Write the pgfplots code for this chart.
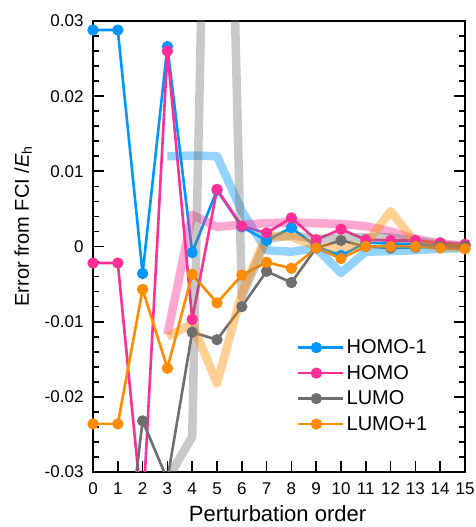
\documentclass[border=0pt]{standalone}
\usepackage{fontspec}
\setmainfont{Liberation Sans}
\usepackage{pgfplots}
\pgfplotsset{compat=1.18}
\definecolor{cB}{HTML}{0096FF}
\definecolor{cP}{HTML}{FF2D96}
\definecolor{cG}{HTML}{6E6E6E}
\definecolor{cO}{HTML}{FF8C00}
\begin{document}
\begin{tikzpicture}
\begin{axis}[
  at={(0,0)}, anchor=south west,
  scale only axis, width=372pt, height=451pt,
  xmin=0, xmax=15, ymin=-0.03, ymax=0.03,
  xtick={0,1,...,15},
  ytick={-0.03,-0.02,-0.01,0,0.01,0.02,0.03},
  yticklabels={-0.03,-0.02,-0.01,0,0.01,0.02,0.03},
  minor y tick num=4,
  xtick pos=bottom, ytick pos=both,
  tick align=inside,
  major tick length=11pt, minor tick length=6pt,
  axis line style={line width=2pt},
  tick style={line width=1.7pt, black},
  /pgf/number format/assume math mode=true,
  ticklabel style={font=\fontsize{17}{20}\selectfont},
  yticklabel style={xshift=-6pt},
  xticklabel style={yshift=-7pt},
  scaled y ticks=false,
  xlabel={Perturbation order},
  ylabel={Error from FCI /\textit{E}\textsubscript{h}},
  xlabel style={font=\fontsize{22}{26}\selectfont, at={(axis description cs:0.496,0)}, anchor=base, yshift=-50pt},
  ylabel style={font=\fontsize{20}{24}\selectfont, at={(axis description cs:-0.188,0.545)}, anchor=center},
  legend style={draw=none, fill=none, at={(0.548,0.191)}, anchor=west, font=\fontsize{20}{23}\selectfont, row sep=6pt, inner sep=0pt},
  legend cell align=left,
  legend image code/.code={\path (0pt,0pt) -- (45pt,0pt);\draw[mark repeat=2,mark phase=2,#1] plot coordinates {(0pt,0pt) (18pt,0pt) (36pt,0pt)};},
  every axis plot/.append style={line join=round},
]
% solid series
\addplot[cB, line width=2.6pt, mark=*, mark size=4.3pt, mark options={solid, fill=cB}] coordinates {
(0,0.0288) (1,0.0288) (2,-0.0036) (3,0.0266) (4,-0.0008) (5,0.0075) (6,0.0026) (7,0.0008)
(8,0.0025) (9,0.0000) (10,-0.0012) (11,0.0005) (12,0.0004) (13,0.0003) (14,0.0002) (15,0.0001)};
\addlegendentry{HOMO-1}
\addplot[cP, line width=2.6pt, mark=*, mark size=4.3pt, mark options={solid, fill=cP}] coordinates {
(0,-0.0022) (1,-0.0022) (2,-0.036) (3,0.0260) (4,-0.0097) (5,0.0076) (6,0.0027) (7,0.0018)
(8,0.0038) (9,0.0009) (10,0.0023) (11,0.0009) (12,0.0008) (13,0.0008) (14,0.0005) (15,0.0003)};
\addlegendentry{HOMO}
\addplot[cG, line width=2.6pt, mark=*, mark size=4.3pt, mark options={solid, fill=cG}] coordinates {
(0,-0.051) (1,-0.051) (2,-0.0232) (3,-0.0310) (4,-0.0114) (5,-0.0124) (6,-0.0080) (7,-0.0033)
(8,-0.0048) (9,-0.0002) (10,0.0008) (11,0.0000) (12,-0.0002) (13,-0.0001) (14,0.0000) (15,0.0000)};
\addlegendentry{LUMO}
\addplot[cO, line width=2.6pt, mark=*, mark size=4.3pt, mark options={solid, fill=cO}] coordinates {
(0,-0.0236) (1,-0.0236) (2,-0.0057) (3,-0.0162) (4,-0.0037) (5,-0.0075) (6,-0.0038) (7,-0.0021)
(8,-0.0029) (9,-0.0002) (10,-0.0016) (11,0.0000) (12,0.0000) (13,0.0000) (14,-0.0002) (15,-0.0003)};
\addlegendentry{LUMO+1}
% faded reference bands
\addplot[cB, line width=8.5pt, opacity=0.42, forget plot] coordinates {
(3,0.0120) (4,0.0121) (5,0.0120) (6,0.0047) (7,-0.0005) (8,-0.0007) (9,-0.0002) (10,-0.0035)
(11,-0.0007) (12,-0.0006) (13,-0.0005) (14,-0.0003) (15,-0.0002)};
\addplot[cP, line width=8.5pt, opacity=0.42, forget plot] coordinates {
(3,-0.0117) (4,0.0042) (5,0.0026) (6,0.0029) (7,0.0031) (8,0.0032) (9,0.0031) (10,0.0030)
(11,0.0027) (12,0.0020) (13,0.0010) (14,0.0004) (15,0.0001)};
\addplot[cG, line width=8.5pt, opacity=0.38, forget plot] coordinates {
(3,-0.0310) (4,-0.0253) (5,0.13) (6,-0.0067) (7,0.0010) (8,0.0015) (9,0.0010) (10,0.0012)
(11,0.0012) (12,0.0012) (13,0.0008) (14,0.0002) (15,0.0000)};
\addplot[cO, line width=8.5pt, opacity=0.42, forget plot] coordinates {
(3,-0.0120) (4,-0.0103) (5,-0.0182) (6,-0.0062) (7,0.0015) (8,0.0013) (9,0.0000) (10,-0.0003)
(11,0.0003) (12,0.0047) (13,0.0005) (14,0.0000) (15,-0.0002)};
\end{axis}
\pgfresetboundingbox
\path[use as bounding box] (-93pt,-55pt) rectangle (383pt,472pt);
\end{tikzpicture}
\end{document}
